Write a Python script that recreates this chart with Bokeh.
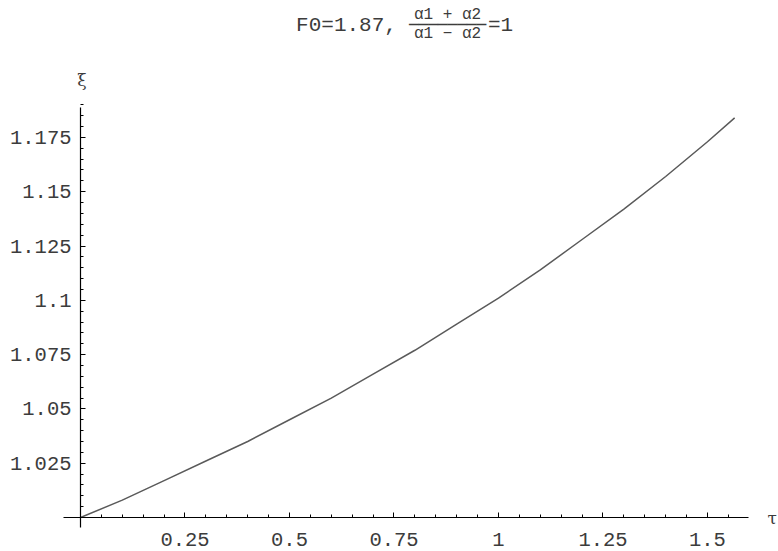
import numpy as np
from bokeh.plotting import figure
from bokeh.models import LinearAxis, FixedTicker, Label, Range1d
from bokeh.embed import file_html
from bokeh.resources import INLINE

# data
tau = [0.0, 0.1, 0.2, 0.3, 0.4, 0.5, 0.6, 0.7, 0.8, 0.9, 1.0, 1.1, 1.2, 1.3, 1.4, 1.5, 1.565]
xi = [1.000, 1.008, 1.017, 1.026, 1.035, 1.045, 1.055, 1.066, 1.077, 1.089, 1.101,
      1.114, 1.128, 1.142, 1.157, 1.173, 1.184]

x_ticks = [0.25, 0.5, 0.75, 1.0, 1.25, 1.5]
x_tick_labels = ["0.25", "0.5", "0.75", "1", "1.25", "1.5"]
y_ticks = [1.025, 1.05, 1.075, 1.1, 1.125, 1.15, 1.175]
y_tick_labels = ["1.025", "1.05", "1.075", "1.1", "1.125", "1.15", "1.175"]

FONT = "Liberation Mono"
TXT = "#3c3c3c"

p = figure(width=778, height=551, output_backend="svg", toolbar_location=None,
           x_range=Range1d(-0.1914, 1.6699), y_range=Range1d(0.98435, 1.23803),
           x_axis_type=None, y_axis_type=None,
           min_border_left=0, min_border_right=0, min_border_top=0, min_border_bottom=0)
p.outline_line_color = None
p.background_fill_color = "white"
p.border_fill_color = "white"

xminor = list(np.round(np.arange(0.05, 1.6, 0.05), 4))
yminor = list(np.round(np.arange(1.005, 1.19, 0.005), 4))

xa = LinearAxis(fixed_location=1.0, bounds=(-0.0407, 1.598),
                ticker=FixedTicker(ticks=x_ticks, minor_ticks=xminor))
xa.major_label_overrides = {t: l for t, l in zip(x_ticks, x_tick_labels)}
ya = LinearAxis(fixed_location=0.0, bounds=(0.9954, 1.1888),
                ticker=FixedTicker(ticks=y_ticks, minor_ticks=yminor))
ya.major_label_overrides = {t: l for t, l in zip(y_ticks, y_tick_labels)}

for ax in (xa, ya):
    ax.axis_line_color = "black"
    ax.axis_line_width = 1.2
    ax.major_tick_in = 5
    ax.major_tick_out = 0
    ax.minor_tick_in = 3
    ax.minor_tick_out = 0
    ax.major_tick_line_color = "black"
    ax.minor_tick_line_color = "black"
    ax.major_label_text_font = FONT
    ax.major_label_text_font_size = "20.5px"
    ax.major_label_text_color = TXT
xa.major_label_standoff = 15
ya.major_label_standoff = 9

p.add_layout(xa, "below")
p.add_layout(ya, "left")

p.line(tau, xi, line_color="#5a5a5a", line_width=1.5)

def lab(x, y, text, size, font=FONT, style="normal"):
    p.add_layout(Label(x=x, y=y, text=text, text_font=font, text_font_size=size,
                       text_color=TXT, text_align="center", text_baseline="middle",
                       text_font_style=style))

lab(0.6364, 1.2265, "F0=1.87,", "21px")
lab(0.878, 1.2313, "α1 + α2", "16px")
lab(0.878, 1.2272, "────────", "16px", font="DejaVu Sans Mono")
lab(0.878, 1.2226, "α1 − α2", "16px")
lab(1.0048, 1.2265, "=1", "21px")
lab(0.0036, 1.2012, "ξ", "17px", font="DejaVu Serif")
lab(1.655, 1.0, "τ", "17px", font="DejaVu Serif")

open("out.html", "w").write(file_html(p, INLINE))
